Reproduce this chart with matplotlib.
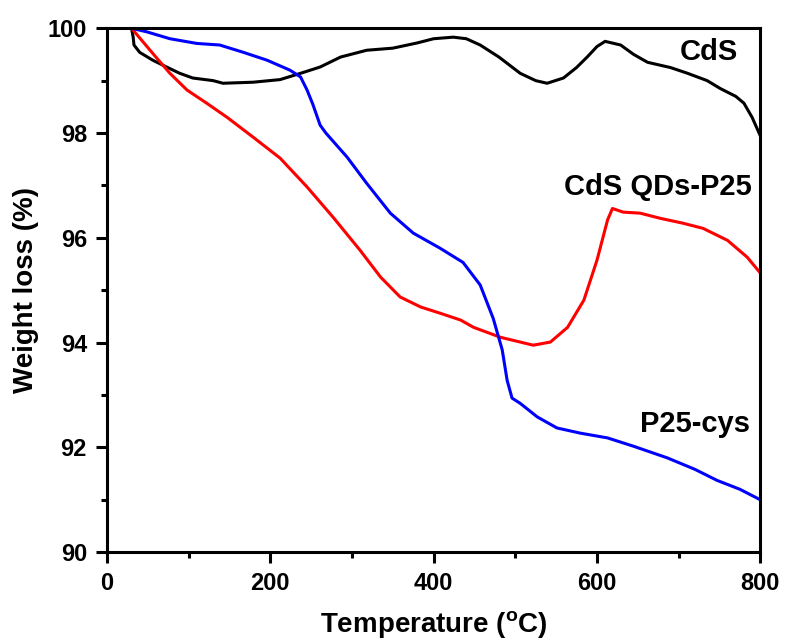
import matplotlib
matplotlib.use("Agg")
import matplotlib.pyplot as plt
from matplotlib.ticker import MultipleLocator

plt.rcParams['font.family'] = ['Liberation Sans', 'DejaVu Sans']
plt.rcParams['font.weight'] = 'bold'

# CdS
cds_t = [30, 32, 33, 40, 56, 73, 89, 105, 130, 142, 179, 212, 237, 261, 286, 318, 350, 380, 400, 424, 440, 457,
         480, 506, 525, 539, 559, 575, 588, 600, 610, 629, 645, 662, 690, 711, 735, 751, 770, 780, 790, 800]
cds_w = [100, 99.83, 99.68, 99.54, 99.39, 99.26, 99.14, 99.05, 99.0, 98.95, 98.97, 99.02, 99.14, 99.26, 99.45,
         99.58, 99.62, 99.72, 99.80, 99.83, 99.80, 99.68, 99.45, 99.14, 99.0, 98.95, 99.05, 99.25, 99.45, 99.65,
         99.75, 99.68, 99.5, 99.35, 99.25, 99.14, 99.0, 98.85, 98.7, 98.57, 98.3, 97.95]

# CdS QDs-P25
qd_t = [30, 56, 77, 98, 122, 147, 179, 212, 245, 277, 310, 335, 359, 384, 408, 433, 449, 482, 522, 543, 564,
        584, 600, 613, 619, 632, 653, 678, 705, 730, 760, 784, 800]
qd_w = [100, 99.52, 99.14, 98.82, 98.57, 98.3, 97.92, 97.52, 96.97, 96.39, 95.76, 95.25, 94.87, 94.68, 94.56,
        94.43, 94.29, 94.1, 93.95, 94.01, 94.29, 94.81, 95.57, 96.34, 96.56, 96.49, 96.47, 96.37, 96.28, 96.18,
        95.95, 95.63, 95.33]

# P25-cys
p25_t = [30, 49, 77, 110, 138, 167, 196, 224, 237, 245, 252, 261, 268, 294, 318, 347, 375, 408, 436, 457, 473,
         484, 490, 496, 506, 527, 551, 580, 613, 645, 686, 720, 747, 775, 800]
p25_w = [100, 99.93, 99.8, 99.71, 99.68, 99.54, 99.39, 99.2, 99.07, 98.82, 98.55, 98.15, 98.0, 97.54, 97.04,
         96.47, 96.09, 95.8, 95.53, 95.1, 94.46, 93.86, 93.28, 92.94, 92.84, 92.58, 92.37, 92.27, 92.18, 92.02,
         91.8, 91.58, 91.37, 91.2, 91.0]

labels = ["CdS", "CdS QDs-P25", "P25-cys"]
label_pos = [(773, 99.39), (790, 96.81), (788, 92.30)]

fig = plt.figure(figsize=(7.87, 6.42), dpi=100)
ax = fig.add_axes([0.136, 0.140, 0.830, 0.816])

ax.plot(cds_t, cds_w, color='black', lw=2.2, solid_joinstyle='round')
ax.plot(qd_t, qd_w, color='red', lw=2.2, solid_joinstyle='round')
ax.plot(p25_t, p25_w, color='blue', lw=2.2, solid_joinstyle='round')

for lab, (x, y) in zip(labels, label_pos):
    ax.text(x, y, lab, fontsize=21, fontweight='bold', ha='right', va='baseline')

ax.set_xlim(0, 800)
ax.set_ylim(90, 100)
ax.xaxis.set_major_locator(MultipleLocator(200))
ax.xaxis.set_minor_locator(MultipleLocator(100))
ax.yaxis.set_major_locator(MultipleLocator(2))
ax.yaxis.set_minor_locator(MultipleLocator(1))
ax.tick_params(which='major', direction='out', length=8, width=2.2, labelsize=17, pad=6.5)
ax.tick_params(which='minor', direction='out', length=4, width=2.2)
for lbl in ax.get_xticklabels() + ax.get_yticklabels():
    lbl.set_fontweight('bold')
for s in ax.spines.values():
    s.set_linewidth(2.2)

ax.set_xlabel('Temperature ($\\mathregular{^{o}}$C)', fontsize=20, fontweight='bold', labelpad=10)
ax.set_ylabel('Weight loss (%)', fontsize=20, fontweight='bold', labelpad=6)

fig.savefig('out.png', dpi=100)
